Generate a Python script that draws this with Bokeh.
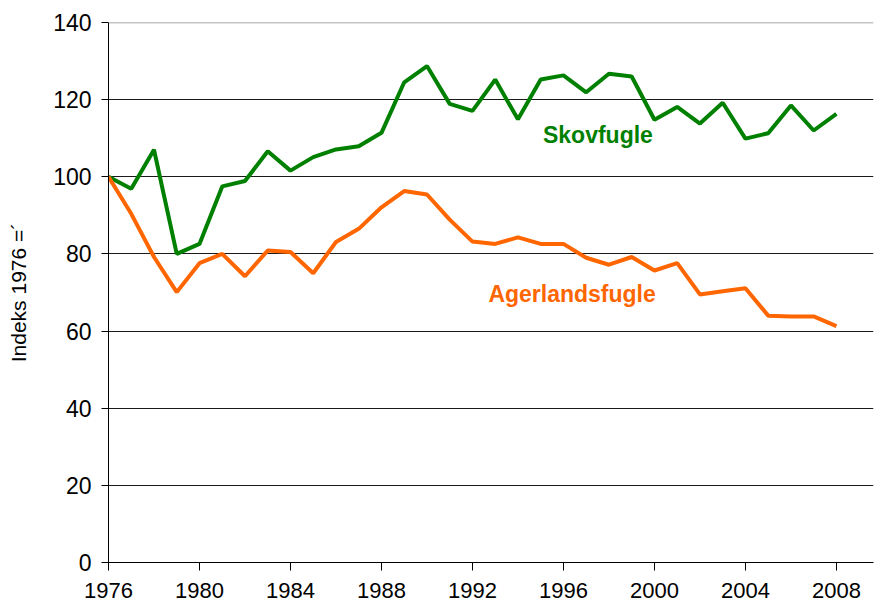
from bokeh.plotting import figure
from bokeh.models import Range1d, FixedTicker, Span, Label
from bokeh.embed import file_html
from bokeh.resources import INLINE

years = list(range(1976, 2009))
skovfugle = [100, 96.9, 107.0, 80.0, 82.6, 97.5, 98.9, 106.6, 101.6, 105.1, 107.1, 107.9,
             111.4, 124.5, 128.7, 118.9, 117.1, 125.2, 114.9, 125.2, 126.3, 121.9, 126.7,
             126.0, 114.8, 118.1, 113.8, 119.2, 109.9, 111.3, 118.5, 112.0, 116.3]
agerlandsfugle = [100, 90.4, 79.2, 70.1, 77.6, 80.0, 74.2, 80.9, 80.5, 75.0, 83.1, 86.5,
                  92.1, 96.3, 95.4, 88.9, 83.2, 82.6, 84.3, 82.6, 82.6, 79.0, 77.2,
                  79.2, 75.7, 77.6, 69.5, 70.3, 71.1, 64.0, 63.8, 63.8, 61.3]
x_ticks = [1976, 1980, 1984, 1988, 1992, 1996, 2000, 2004, 2008]
y_ticks = [0, 20, 40, 60, 80, 100, 120, 140]

p = figure(width=875, height=609, output_backend="svg", toolbar_location=None,
           x_range=Range1d(1976, 2009.63), y_range=Range1d(0, 140),
           min_border_left=108, min_border_right=2, min_border_top=22, min_border_bottom=47)
p.outline_line_color = None
p.background_fill_color = "white"
p.border_fill_color = "white"

p.line(years, skovfugle, line_color="#008000", line_width=4)
p.line(years, agerlandsfugle, line_color="#FF6600", line_width=4)

p.xaxis.ticker = FixedTicker(ticks=x_ticks)
p.yaxis.ticker = FixedTicker(ticks=y_ticks)
for ax in (p.xaxis[0], p.yaxis[0]):
    ax.axis_line_color = "black"
    ax.axis_line_width = 1
    ax.major_tick_line_color = "black"
    ax.major_tick_in = 0
    ax.minor_tick_line_color = None
    ax.major_label_text_font = "Liberation Sans"
    ax.major_label_text_font_size = "23px"
    ax.major_label_text_color = "black"
p.xaxis.major_label_text_font_size = "22px"
p.xaxis.major_tick_out = 8
p.yaxis.major_tick_out = 7
p.xaxis.major_label_standoff = 12
p.yaxis.major_label_standoff = 10

p.yaxis.axis_label = "Indeks 1976 =´"
p.yaxis.axis_label_text_font = "Liberation Sans"
p.yaxis.axis_label_text_font_style = "normal"
p.yaxis.axis_label_text_font_size = "21px"
p.yaxis.axis_label_text_color = "black"
p.yaxis.axis_label_standoff = 20

p.xgrid.grid_line_color = None
p.ygrid.ticker = FixedTicker(ticks=[20, 40, 60, 80, 100, 120])
p.ygrid.grid_line_color = "#1a1a1a"
p.ygrid.grid_line_width = 1
p.add_layout(Span(location=140, dimension="width", line_color="#8c8c8c", line_width=1.5))

p.add_layout(Label(x=1995.1, y=107.5, text="Skovfugle", text_color="#008000",
                   text_font="Liberation Sans", text_font_style="bold", text_font_size="23px"))
p.add_layout(Label(x=1992.7, y=66.3, text="Agerlandsfugle", text_color="#FF6600",
                   text_font="Liberation Sans", text_font_style="bold", text_font_size="23px"))

open("out.html", "w").write(file_html(p, INLINE))
